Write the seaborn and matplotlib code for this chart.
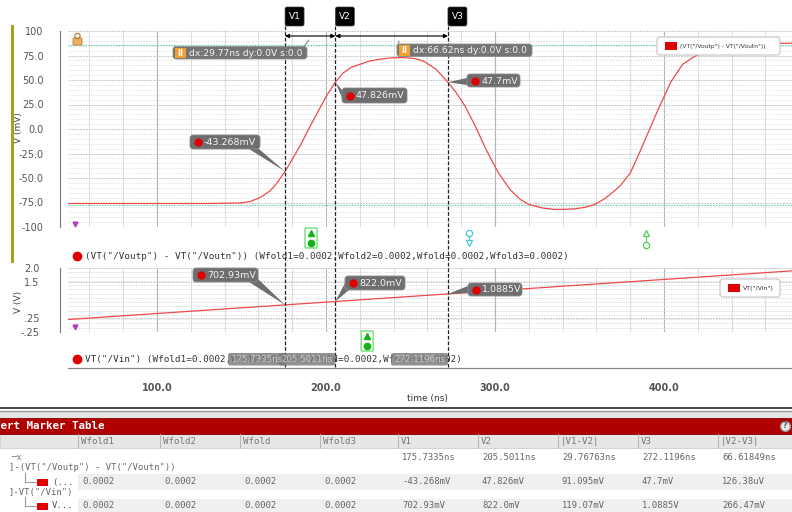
import numpy as np
import pandas as pd
import matplotlib
matplotlib.use("Agg")
import matplotlib.pyplot as plt
import seaborn as sns
from matplotlib.patches import FancyBboxPatch, Rectangle, Polygon
from matplotlib.ticker import MultipleLocator, FixedLocator, FuncFormatter

# ---------------- data ----------------
time_out_ns = [47.3, 100, 130, 149, 155, 161, 167, 171, 175.7335, 180, 185, 190, 195, 200,
               205.5011, 210, 215, 225, 231, 238, 245, 252, 258, 265, 272.1196, 277, 282, 288,
               295, 302, 309, 315, 320, 328, 335, 340, 347, 353, 359, 364, 368, 374, 380, 385,
               389, 392, 396, 404, 411, 418, 423, 430, 440, 455, 475.7]
vout_mv = [-76, -76, -76, -75.5, -74, -70, -63, -55, -43.268, -31, -16, 1, 17, 33,
           47.826, 57, 63, 69, 71, 72.5, 73, 72, 69, 61, 47.7, 37, 24, 4,
           -22, -45, -62, -72, -77, -80.6, -82, -82, -81.5, -80, -77, -72, -67, -58, -45, -26,
           -10, 2, 18, 48, 66, 74, 78, 83, 86, 87, 87.5]

time_in_ns = [47.3, 175.7335, 205.5011, 272.1196, 475.7]
vin_v = [0.19, 0.70293, 0.822, 1.0885, 1.90]

marker_names = ["V1", "V2", "V3"]
marker_times_ns = [175.7335, 205.5011, 272.1196]
out_marker_mv = [-43.268, 47.826, 47.7]
out_marker_txt = ["-43.268mV", "47.826mV", "47.7mV"]
in_marker_v = [0.70293, 0.822, 1.0885]
in_marker_txt = ["702.93mV", "822.0mV", "1.0885V"]
marker_x_txt = ["175.7335ns", "205.5011ns", "272.1196ns"]

ref_lines_mv = [85.7, -77.5]
cross_times_ns = [191.1, 284.6, 389.3]
in_cross_time_ns = [224.3]

top_yticks = [100, 75, 50, 25, 0, -25, -50, -75, -100]
top_yticklabels = ["100", "75.0", "50.0", "25.0", "0.0", "-25.0", "-50.0", "-75.0", "-100"]
bot_yticks = [2.0, 1.5, 0.25, -0.25]
bot_yticklabels = ["2.0", "1.5", ".25", "-.25"]

out_expr = '(VT("/Voutp") - VT("/Voutn"))'
in_expr = 'VT("/Vin")'
params_txt = "(Wfold1=0.0002,Wfold2=0.0002,Wfold=0.0002,Wfold3=0.0002)"

table_columns = ["Wfold1", "Wfold2", "Wfold", "Wfold3", "V1", "V2", "|V1-V2|", "V3", "|V2-V3|"]
row_x = ["", "", "", "", "175.7335ns", "205.5011ns", "29.76763ns", "272.1196ns", "66.61849ns"]
row_out = ["0.0002", "0.0002", "0.0002", "0.0002", "-43.268mV", "47.826mV", "91.095mV", "47.7mV", "126.38uV"]
row_in = ["0.0002", "0.0002", "0.0002", "0.0002", "702.93mV", "822.0mV", "119.07mV", "1.0885V", "266.47mV"]

# ---------------- style ----------------
sns.set_theme(style="white")
plt.rcParams['font.family'] = ['DejaVu Sans']
W, H = 792, 512
RED = "#ef4a4a"
fig = plt.figure(figsize=(W / 100, H / 100), dpi=100)
fig.patch.set_facecolor("white")


def fr(l, t, r, b):
    return [l / W, 1 - b / H, (r - l) / W, (b - t) / H]


XLIM = (47.3, 475.7)

# ---------------- top panel ----------------
ax1 = fig.add_axes(fr(68, 31, 792, 227))
df_out = pd.DataFrame({"time": time_out_ns, "v": vout_mv})
sns.lineplot(data=df_out, x="time", y="v", ax=ax1, color=RED, lw=0.9, estimator=None, zorder=3)
for r in ref_lines_mv:
    ax1.axhline(r, color="#6fd0b0", lw=0.8, ls=(0, (1.5, 1)), zorder=2)
ax1.set_xlim(*XLIM)
ax1.set_ylim(-100, 100)

# ---------------- bottom panel ----------------
ax2 = fig.add_axes(fr(68, 268, 792, 332))
df_in = pd.DataFrame({"time": time_in_ns, "v": vin_v})
sns.lineplot(data=df_in, x="time", y="v", ax=ax2, color=RED, lw=0.9, estimator=None, zorder=3)
ax2.set_xlim(*XLIM)
ax2.set_ylim(-0.25, 2.0)

for ax, yt, ytl, minor, lpad in [
        (ax1, top_yticks, top_yticklabels, 5, 8.5),
        (ax2, bot_yticks, bot_yticklabels, 0.075, 11.5)]:
    ax.set_xlabel("")
    ax.set_ylabel("")
    ax.set_facecolor("white")
    ax.xaxis.set_major_locator(MultipleLocator(100))
    ax.xaxis.set_minor_locator(MultipleLocator(20))
    ax.grid(which="major", axis="x", color="#b4b4b4", lw=0.8)
    ax.grid(which="minor", axis="x", color="#dcdcdc", lw=0.7)
    ax.yaxis.set_major_locator(FixedLocator(yt))
    ax.set_yticklabels(ytl, fontweight="bold")
    ax.yaxis.set_minor_locator(MultipleLocator(minor))
    ax.grid(which="major", axis="y", color="#c8c8c8", lw=0.7, ls=(0, (2, 1)))
    ax.tick_params(axis="x", which="both", length=0, labelbottom=False)
    ax.tick_params(axis="y", which="major", length=3, width=0.8, color="#666",
                   labelsize=7, labelcolor="#555", pad=lpad)
    ax.tick_params(axis="y", which="minor", length=2.5, width=0.6, color="#777")
    for s in ["top", "right", "bottom"]:
        ax.spines[s].set_visible(False)
    ax.spines["left"].set_position(("outward", 6))
    ax.spines["left"].set_color("#777")
    ax.spines["left"].set_linewidth(0.8)
    ax.set_axisbelow(True)

# horizontal minor grids drawn as dotted lines
for y in np.arange(-100, 100.1, 5):
    if y % 25:
        ax1.axhline(y, color="#dedede", lw=0.6, ls=(0, (1.5, 1.5)), zorder=1)
for y in np.arange(-0.25, 2.01, 0.15):
    ax2.axhline(y, color="#d6d6d6", lw=0.6, ls=(0, (1.5, 1.5)), zorder=1)

# ---------------- time axis ----------------
ax3 = fig.add_axes(fr(68, 367, 792, 368))
ax3.set_xlim(*XLIM)
ax3.set_facecolor("none")
for s in ["top", "right", "left"]:
    ax3.spines[s].set_visible(False)
ax3.spines["bottom"].set_color("#888")
ax3.spines["bottom"].set_linewidth(0.9)
ax3.set_yticks([])
ax3.xaxis.set_major_locator(MultipleLocator(20))
ax3.xaxis.set_major_formatter(FuncFormatter(lambda v, p: f"{v:.1f}" if abs(v % 100) < 1e-6 else ""))
ax3.tick_params(axis="x", length=3, width=0.8, color="#777", labelsize=7, labelcolor="#555", pad=8)
for lab in ax3.get_xticklabels():
    lab.set_fontweight("bold")

# ---------------- overlay in pixel coordinates ----------------
ov = fig.add_axes([0, 0, 1, 1], zorder=10)
ov.set_xlim(0, W)
ov.set_ylim(H, 0)
ov.axis("off")
ov.patch.set_alpha(0)


def px(ax, x, y):
    X, Y = ax.transData.transform((x, y))
    return X, H - Y


MONO = "DejaVu Sans Mono"

# olive bar on the left
ov.add_patch(Rectangle((11, 25), 3, 238, fc="#a4a41c", ec="none"))
fig.text(19 / W, 1 - 128 / H, "V (mV)", rotation=90, ha="center", va="center", fontsize=6.5, color="#444")
fig.text(19 / W, 1 - 302 / H, "V (V)", rotation=90, ha="center", va="center", fontsize=6.5, color="#444")
fig.text(427 / W, 1 - 398 / H, "time (ns)", ha="center", va="center", fontsize=6.5, color="#333")

# lock icon & magenta markers
ov.add_patch(FancyBboxPatch((73, 38), 9, 7, boxstyle="round,pad=0,rounding_size=1", fc="#e8b060", ec="#c08030", lw=0.6))
ov.add_patch(FancyBboxPatch((75, 33.5), 5, 5, boxstyle="round,pad=0,rounding_size=2", fc="none", ec="#b08040", lw=0.9))
ov.plot([75, 75], [224, 327], ls="none", marker="v", ms=3.5, color="#b040c0")

# marker lines, top boxes, arrows
mx = [px(ax1, t, 0)[0] for t in marker_times_ns]
for name, x in zip(marker_names, mx):
    ov.plot([x, x], [26, 367], color="#222", lw=0.9, ls=(0, (3, 1.5)), zorder=5)
    ov.add_patch(FancyBboxPatch((x, 7), 19, 19, boxstyle="round,pad=0,rounding_size=2",
                                fc="black", ec="#444", lw=0.5, zorder=6))
    ov.text(x + 9.5, 16.8, name, color="white", fontsize=6.5, ha="center", va="center", zorder=7)
for a, b in [(mx[0], mx[1]), (mx[1], mx[2])]:
    ov.annotate("", xy=(b, 36), xytext=(a, 36),
                arrowprops=dict(arrowstyle="<|-|>", color="black", lw=0.8, mutation_scale=6,
                                shrinkA=0, shrinkB=0), zorder=6)

dx_vals = [marker_times_ns[1] - marker_times_ns[0], marker_times_ns[2] - marker_times_ns[1]]
dx_boxes = [(173, 46.5, 134), (397, 44, 135)]
for (bx, by, bw), d in zip(dx_boxes, dx_vals):
    ov.add_patch(FancyBboxPatch((bx, by), bw, 12.5, boxstyle="round,pad=0,rounding_size=3",
                                fc="#6e6e6e", ec="#8c8c8c", lw=0.6, alpha=0.95, zorder=6))
    ov.add_patch(Rectangle((bx + 2, by + 1), 11, 10.5, fc="#f0a030", ec="none", zorder=7))
    ov.text(bx + 7.5, by + 6.5, "II", color="white", fontsize=6, fontweight="bold", ha="center", va="center", zorder=8)
    ov.text(bx + 16, by + 6.5, f"dx:{d:.2f}ns dy:0.0V s:0.0", color="#f4f4f4", fontsize=6.6,
            ha="left", va="center", zorder=8)
ov.plot([304, 309], [46.5, 40], color="#888", lw=0.8, zorder=6)
ov.plot([397, 399], [48, 41], color="#888", lw=0.8, zorder=6)

# value labels at marker points
out_boxes = [(190, 135, 70, 14, [(249, 149), (259, 149)]),
             (342, 88, 65, 15, [(342, 90), (342, 98)]),
             (467, 74, 53, 13, [(467, 78), (467, 85)])]
in_boxes = [(193, 268, 65, 14, [(249, 282), (258, 279)]),
            (345, 276, 60, 14, [(345, 283), (349, 290)]),
            (468, 283, 54, 13, [(468, 286), (468, 293)])]


def value_label(ax, t, v, txt, box):
    bx, by, bw, bh, base = box
    p = px(ax, t, v)
    ov.add_patch(Polygon([base[0], base[1], p], closed=True, fc="#6e6e6e", ec="none", zorder=6))
    ov.add_patch(FancyBboxPatch((bx, by), bw, bh, boxstyle="round,pad=0,rounding_size=3",
                                fc="#6e6e6e", ec="#8c8c8c", lw=0.6, zorder=6))
    ov.plot([bx + 8], [by + bh / 2], marker="o", ms=5, color="#e00000", zorder=7)
    ov.text(bx + 14, by + bh / 2 + 0.5, txt, color="#f4f4f4", fontsize=6.8, ha="left", va="center", zorder=8)


for t, v, txt, box in zip(marker_times_ns, out_marker_mv, out_marker_txt, out_boxes):
    value_label(ax1, t, v, txt, box)
for t, v, txt, box in zip(marker_times_ns, in_marker_v, in_marker_txt, in_boxes):
    value_label(ax2, t, v, txt, box)

# zero-crossing markers
gx = px(ax1, cross_times_ns[0], 0)[0]
ov.add_patch(FancyBboxPatch((gx - 6, 228), 12, 20, boxstyle="round,pad=0,rounding_size=1",
                            fc="white", ec="#70e070", lw=1.0, zorder=6))
ov.plot([gx], [233], marker="^", ms=4.5, color="#18b018", zorder=7)
ov.plot([gx], [243], marker="o", ms=4.5, color="#18b018", zorder=7)
cx = px(ax1, cross_times_ns[1], 0)[0]
ov.plot([cx, cx], [233, 243], color="#40c8d8", lw=0.8, zorder=6)
ov.plot([cx], [233], marker="o", ms=4.5, mfc="white", mec="#40c8d8", mew=0.9, zorder=7)
ov.plot([cx], [243], marker="v", ms=4.5, mfc="white", mec="#40c8d8", mew=0.9, zorder=7)
kx = px(ax1, cross_times_ns[2], 0)[0]
ov.plot([kx, kx], [233, 245], color="#50d050", lw=0.8, zorder=6)
ov.plot([kx], [233], marker="^", ms=4.5, mfc="white", mec="#50d050", mew=0.9, zorder=7)
ov.plot([kx], [245], marker="o", ms=4.5, mfc="white", mec="#50d050", mew=0.9, zorder=7)
bx_ = px(ax2, in_cross_time_ns[0], 0)[0]
ov.add_patch(FancyBboxPatch((bx_ - 6, 331), 12, 20, boxstyle="round,pad=0,rounding_size=1",
                            fc="white", ec="#70e070", lw=1.0, zorder=6))
ov.plot([bx_], [336], marker="^", ms=4.5, color="#18b018", zorder=7)
ov.plot([bx_], [346], marker="o", ms=4.5, color="#18b018", zorder=7)

# trace legend rows
ov.plot([77, 77], [256, 359], ls="none", marker="o", ms=6, color="#e00000", zorder=7)
ov.text(85, 256.5, f"{out_expr} {params_txt}", family=MONO, fontsize=6.7, color="#333",
        ha="left", va="center", zorder=7)
ov.text(85, 359.5, f"{in_expr} {params_txt}", family=MONO, fontsize=6.7, color="#333",
        ha="left", va="center", zorder=7)

# x-value boxes at bottom of markers
for x, txt in zip(mx, marker_x_txt):
    ov.add_patch(FancyBboxPatch((x - 57, 353), 57, 12.5, boxstyle="round,pad=0,rounding_size=2",
                                fc="#7a7a7a", ec="none", alpha=0.82, zorder=8))
    ov.text(x - 28.5, 359.5, txt, color="#c8c8c8", fontsize=6.2, ha="center", va="center", zorder=9)

# top-right legends
ov.add_patch(FancyBboxPatch((657, 37), 123, 18, boxstyle="round,pad=0,rounding_size=3",
                            fc="white", ec="#c4c4c4", lw=0.8, zorder=6))
ov.add_patch(Rectangle((665, 42), 12, 8, fc="#e00000", ec="none", zorder=7))
ov.text(680, 46.5, out_expr, fontsize=4.3, color="#333", ha="left", va="center", zorder=7)
ov.add_patch(FancyBboxPatch((720, 279), 60, 18, boxstyle="round,pad=0,rounding_size=3",
                            fc="white", ec="#c4c4c4", lw=0.8, zorder=6))
ov.add_patch(Rectangle((728, 284), 12, 8, fc="#e00000", ec="none", zorder=7))
ov.text(743, 288.5, in_expr, fontsize=4.5, color="#333", ha="left", va="center", zorder=7)

# ---------------- marker table ----------------
ov.plot([0, W], [407.5, 407.5], color="#444", lw=1.4, zorder=5)
ov.plot([0, W], [410.5, 410.5], color="#999", lw=1.0, zorder=5)
ov.add_patch(Rectangle((0, 412), W, 6, fc="#e4e4e4", ec="none", zorder=4))
ov.add_patch(Rectangle((0, 418), W, 15.5, fc="#b00000", ec="#800000", lw=0.6, zorder=5))
ov.text(-6, 425.8, "Vert Marker Table", family=MONO, fontweight="bold", fontsize=7.8,
        color="white", ha="left", va="center", zorder=6)
ov.plot([785], [425.5], marker="o", ms=7, color="#e8e8e8", mec="#999", zorder=6)
ov.text(785, 426, "?", fontsize=5.5, fontweight="bold", color="#555", ha="center", va="center", zorder=7)
ov.add_patch(Rectangle((0, 434), W, 14, fc="#e6e6e6", ec="#cfcfcf", lw=0.6, zorder=4))
col_x = [78, 160, 240, 320, 398, 478, 558, 638, 718]
for x, name in zip(col_x, table_columns):
    ov.plot([x, x], [434, 448], color="#b8b8b8", lw=0.8, zorder=5)
    ov.text(x + 3, 441.5, name, family=MONO, fontsize=6.6, color="#777", ha="left", va="center", zorder=6)
ov.add_patch(Rectangle((78, 474), W - 78, 16, fc="#efefef", ec="none", zorder=4))
ov.add_patch(Rectangle((78, 499), W - 78, 13, fc="#efefef", ec="none", zorder=4))
row_y = [457, 482, 506]
for y, vals in zip(row_y, [row_x, row_out, row_in]):
    for x, v in zip(col_x, vals):
        ov.text(x + 4, y, v, family=MONO, fontsize=6.4, color="#666", ha="left", va="center", zorder=6)
ov.text(11, 457, "\u2500x", family=MONO, fontsize=6.4, color="#777", ha="left", va="center", zorder=6)
ov.text(9, 468, "]-" + out_expr, family=MONO, fontsize=6.4, color="#666", ha="left", va="center", zorder=6)
ov.text(9, 493, "]-" + in_expr, family=MONO, fontsize=6.4, color="#666", ha="left", va="center", zorder=6)
for y, short in [(482, "(..."), (506, "V...")]:
    ov.plot([25, 25, 36], [y - 9, y, y], color="#999", lw=0.8, zorder=6)
    ov.add_patch(Rectangle((37, y - 3.5), 11, 7, fc="#e00000", ec="none", zorder=6))
    ov.text(52, y, short, family=MONO, fontsize=6.4, color="#555", ha="left", va="center", zorder=6)

fig.savefig("out.png", dpi=100, facecolor="white")
